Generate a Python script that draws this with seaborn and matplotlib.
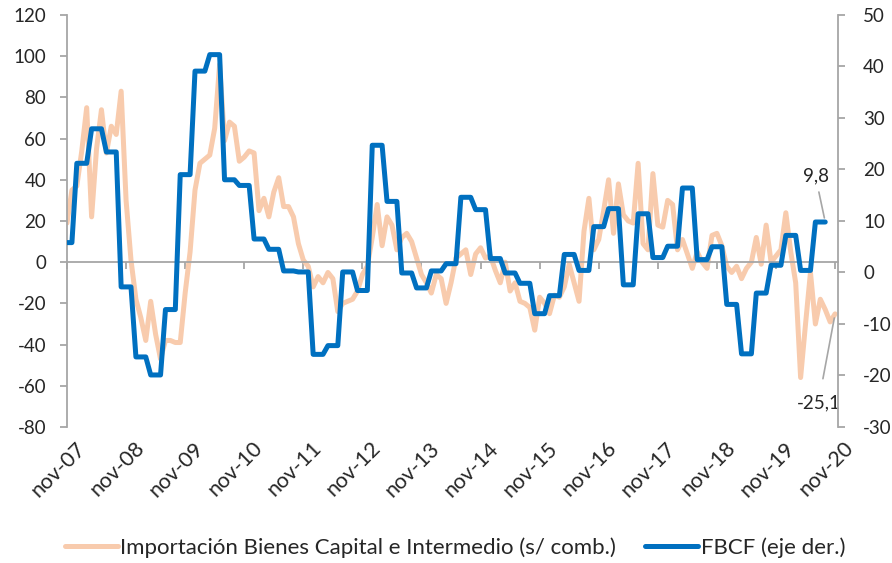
import numpy as np
import pandas as pd
import seaborn as sns
import matplotlib.pyplot as plt
from matplotlib.transforms import ScaledTranslation

# ---------------- data ----------------
meses = pd.date_range("2007-11-01", "2020-11-01", freq="MS")  # 157 months

importacion = [
    19, 35, 37, 54, 75, 22, 55, 74, 53, 66, 62, 83,
    30, 1, -18, -27, -38, -19, -35, -47, -38, -38, -39, -39,
    -15, 5, 35, 48, 50, 52, 65, 96, 59, 68, 66, 49,
    51, 54, 53, 25, 31, 22, 34, 41, 27, 27, 22, 9,
    1, -2, -12, -7, -10, -5, -8, -24, -20, -19, -18, -14,
    -6, -2, 12, 28, 8, 22, 18, 6, 12, 14, 10, 2,
    -6, -10, -15, -6, -8, -20, -10, 2, 4, 6, -6, 4,
    7, 2, 3, -4, -10, 0, -14, -10, -19, -20, -22, -33,
    -17, -20, -25, -16, -17, -12, -1, -10, -19, 15, 31, 6,
    11, 25, 40, 14, 38, 23, 20, 19, 48, 9, 6, 43,
    18, 17, 30, 28, 6, 11, 4, -3, 5, 0, -3, 13,
    14, 8, -2, -5, -2, -8, -3, 0, 12, -1, 18, 0,
    3, 6, 24, 5, -10, -56, -30, -5, -30, -18, -23, -29,
    -25.1,
]

trimestres = pd.period_range("2007Q4", "2020Q3", freq="Q")
fbcf_trim = [
    5.8,
    21.2, 27.9, 23.4, -2.8,
    -16.4, -19.9, -7.2, 19.0,
    39.1, 42.3, 18.0, 16.9,
    6.5, 4.5, 0.3, 0.1,
    -15.9, -14.2, 0.1, -3.5,
    24.7, 13.8, -0.1, -3.0,
    0.3, 1.7, 14.6, 12.2,
    2.7, -0.1, -2.1, -8.0,
    -4.5, 3.5, 0.4, 8.9,
    12.4, -2.4, 11.4, 2.9,
    5.1, 16.4, 2.5, 5.0,
    -6.2, -15.8, -4.0, 1.4,
    7.2, 0.4, 9.8,
]

etiquetas_x = [f"nov-{y % 100:02d}" for y in range(2007, 2021)]
serie_imp = "Importación Bienes Capital e Intermedio (s/ comb.)"
serie_fbcf = "FBCF (eje der.)"

# ---------------- frames ----------------
df = pd.DataFrame({"fecha": meses, "importacion": importacion})
df["idx"] = np.arange(len(df))
mapa_q = pd.Series(fbcf_trim, index=trimestres)
df["fbcf"] = df["fecha"].dt.to_period("Q").map(mapa_q)
df_fbcf = df.dropna(subset=["fbcf"])

# ---------------- style ----------------
sns.set_theme(style="white")
plt.rcParams["font.family"] = ["Lato", "DejaVu Sans"]
plt.rcParams["axes.unicode_minus"] = False
FS = 13.5
GRIS = "#A6A6A6"
NARANJA = "#F8CBAD"
AZUL = "#0070C0"
TXT = "#262626"

fig = plt.figure(figsize=(8.92, 5.63), dpi=100)
ax = fig.add_axes([0.0751, 0.2416, 0.9395 - 0.0751, 0.9734 - 0.2416])

sns.lineplot(data=df, x="idx", y="importacion", ax=ax, color=NARANJA,
             lw=3.6, solid_joinstyle="round", solid_capstyle="round",
             label=serie_imp, legend=False)
ax2 = ax.twinx()
sns.lineplot(data=df_fbcf, x="idx", y="fbcf", ax=ax2, color=AZUL,
             lw=3.6, solid_joinstyle="round", solid_capstyle="round",
             label=serie_fbcf, legend=False)

ax.set_xlim(0, 156.6)
ax.set_ylim(-80, 120)
ax2.set_ylim(-30, 50)
ax.set_yticks(np.arange(-80, 121, 20))
ax2.set_yticks(np.arange(-30, 51, 10))
ax.set_xlabel("")
ax.set_ylabel("")
ax2.set_ylabel("")

# spines
for s in ["top", "right"]:
    ax.spines[s].set_visible(False)
for s in ["top", "left", "bottom"]:
    ax2.spines[s].set_visible(False)
ax.spines["left"].set_color(GRIS)
ax.spines["left"].set_linewidth(1.3)
ax2.spines["right"].set_color(GRIS)
ax2.spines["right"].set_linewidth(1.3)
ax.spines["bottom"].set_position(("data", 0))
ax.spines["bottom"].set_color(GRIS)
ax.spines["bottom"].set_linewidth(1.3)

ax.set_xticks(np.arange(0, 157, 12))
ax.tick_params(axis="x", direction="out", length=5, width=1.3, color=GRIS,
               labelbottom=False, bottom=True)
ax.tick_params(axis="y", direction="out", length=5, width=1.3, color=GRIS,
               labelsize=FS, labelcolor=TXT, pad=10, left=True)
ax2.tick_params(axis="y", direction="out", length=5, width=1.3, color=GRIS,
                labelsize=FS, labelcolor=TXT, pad=13, right=True)

sec = ax.secondary_xaxis("bottom")
sec.set_xticks(np.arange(0, 157, 12))
sec.set_xticklabels(etiquetas_x, rotation=45, ha="right",
                    rotation_mode="anchor", fontsize=15.5, color=TXT)
sec.tick_params(length=0, pad=8)
sec.spines["bottom"].set_visible(False)
desplaza = ScaledTranslation(8 / 100, 0, fig.dpi_scale_trans)
for lbl in sec.get_xticklabels():
    lbl.set_transform(lbl.get_transform() + desplaza)

# annotations for last values
ult_b = df_fbcf.iloc[-1]
ax2.annotate(f"{ult_b['fbcf']:.1f}".replace(".", ","),
             xy=(ult_b["idx"], ult_b["fbcf"]), xytext=(-7, 33),
             textcoords="offset points", ha="center", va="center",
             fontsize=FS, color=TXT,
             arrowprops=dict(arrowstyle="-", color=GRIS, lw=1.2,
                             shrinkA=3, shrinkB=3))
ult_o = df.iloc[-1]
ax.annotate(f"{ult_o['importacion']:.1f}".replace(".", ","),
            xy=(ult_o["idx"], ult_o["importacion"]), xytext=(-12, -64),
            textcoords="offset points", ha="center", va="center",
            fontsize=FS, color=TXT,
            arrowprops=dict(arrowstyle="-", color=GRIS, lw=1.2,
                            shrinkA=9, shrinkB=3))

# legend
h1, l1 = ax.get_legend_handles_labels()
h2, l2 = ax2.get_legend_handles_labels()
fig.legend(h1 + h2, l1 + l2, loc="center", bbox_to_anchor=(0.51, 0.027),
           ncol=2, frameon=False, fontsize=16, handlelength=2.4,
           handletextpad=0.1, columnspacing=1.3, labelcolor=TXT)

fig.savefig("out.png", dpi=100)
